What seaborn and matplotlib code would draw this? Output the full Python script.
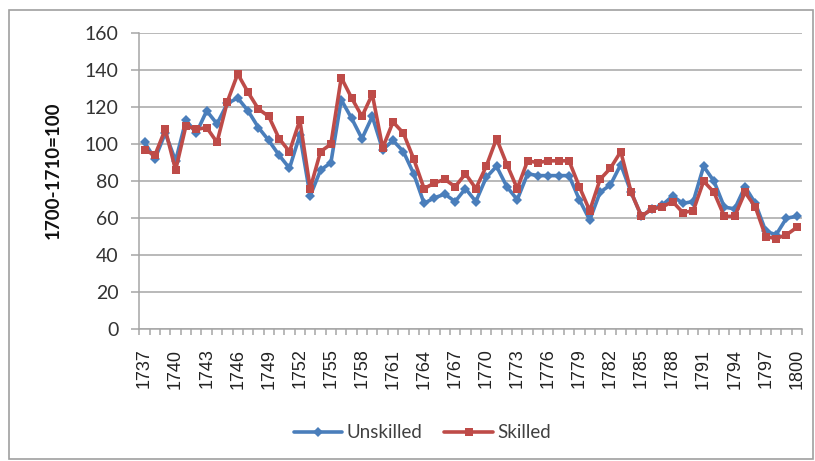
import numpy as np
import pandas as pd
import matplotlib
matplotlib.use("Agg")
import matplotlib.pyplot as plt
from matplotlib.patches import Rectangle
import seaborn as sns

# index values, 1700-1710 = 100
years = list(range(1737, 1801))
unskilled = [101, 92, 106, 91, 113, 106, 118, 111, 122, 125,
             118, 109, 102, 94, 87, 105, 72, 86, 90, 124,
             114, 103, 115, 97, 102, 96, 84, 68, 71, 73,
             69, 76, 69, 82, 88, 77, 70, 84, 83, 83,
             83, 83, 70, 59, 74, 78, 89, 74, 61, 65,
             67, 72, 68, 69, 88, 80, 66, 65, 77, 68,
             53, 51, 60, 61]
skilled = [97, 94, 108, 86, 110, 108, 109, 101, 123, 138,
           128, 119, 115, 103, 96, 113, 76, 96, 100, 136,
           125, 115, 127, 98, 112, 106, 92, 76, 79, 81,
           77, 84, 76, 88, 103, 89, 76, 91, 90, 91,
           91, 91, 77, 64, 81, 87, 96, 74, 61, 65,
           66, 69, 63, 64, 80, 74, 61, 61, 74, 66,
           50, 49, 51, 55]
tick_years = list(range(1737, 1801, 3))
y_ticks = [0, 20, 40, 60, 80, 100, 120, 140, 160]

df = pd.DataFrame({"Year": years, "Unskilled": unskilled, "Skilled": skilled})

sns.set_style("white")
plt.rcParams["font.family"] = ["Lato", "DejaVu Sans"]

grey = "#A6A6A6"
blue = "#4A7EBB"
red = "#BE4B48"

fig = plt.figure(figsize=(8.15, 4.61), dpi=100)
ax = fig.add_axes([0.171, 0.286, 0.813, 0.642])

sns.lineplot(data=df, x="Year", y="Unskilled", color=blue, marker="D",
             markersize=5, markeredgewidth=0, linewidth=2.6,
             label="Unskilled", ax=ax)
sns.lineplot(data=df, x="Year", y="Skilled", color=red, marker="s",
             markersize=6, markeredgewidth=0, linewidth=2.6,
             label="Skilled", ax=ax)

ax.set_xlim(1736.5, 1800.5)
ax.set_ylim(0, 160)
ax.set_yticks(y_ticks)
ax.set_xticks(tick_years)
ax.set_xticks(np.arange(1736.5, 1801, 1), minor=True)
ax.set_xticklabels([str(y) for y in tick_years], rotation=90,
                   fontfamily="Liberation Sans", fontsize=13, color="#222222")
ax.set_yticklabels([str(v) for v in y_ticks], fontsize=14, color="#333333")

ax.yaxis.grid(True, color=grey, linewidth=1.1)
ax.set_axisbelow(True)
for side in ["top", "right"]:
    ax.spines[side].set_visible(False)
for side in ["left", "bottom"]:
    ax.spines[side].set_color(grey)
    ax.spines[side].set_linewidth(1.1)

ax.tick_params(axis="y", which="major", left=True, length=6, width=1.1,
               color=grey, pad=9)
ax.tick_params(axis="x", which="major", bottom=True, length=0, pad=14)
ax.tick_params(axis="x", which="minor", bottom=True, length=4, width=1.1,
               color=grey)

ax.set_xlabel("")
ax.set_ylabel("1700-1710=100", fontweight="bold", fontsize=13.5, color="#111111")
ax.yaxis.set_label_coords(-0.117, 0.537)

handles, labels = ax.get_legend_handles_labels()
ax.get_legend().remove()
fig.legend(handles, labels, loc="center", bbox_to_anchor=(0.518, 0.061),
           ncol=2, frameon=False, fontsize=13.5, handlelength=2.6,
           columnspacing=1.2, handletextpad=0.2, labelcolor="#404040")

fig.patches.append(Rectangle((0.011, 0.0043), 0.986, 0.974,
                             transform=fig.transFigure, fill=False,
                             edgecolor="#A0A0A0", linewidth=1.2))

fig.savefig("out.png", dpi=100)
